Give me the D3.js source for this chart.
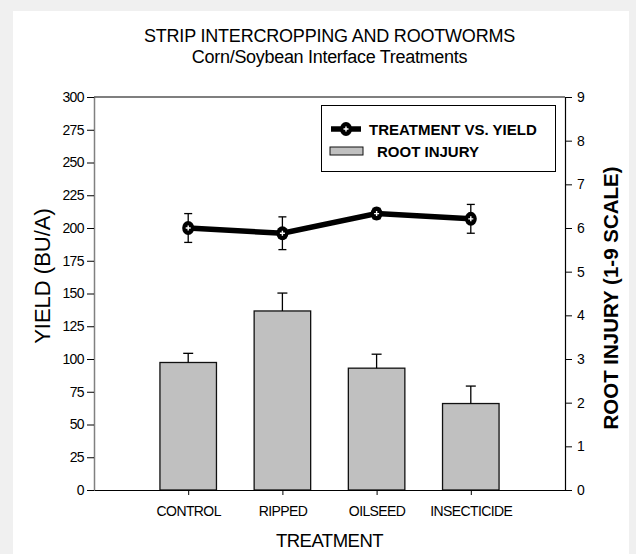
<!DOCTYPE html>
<html>
<head>
<meta charset="utf-8">
<script src="https://cdn.jsdelivr.net/npm/d3@7"></script>
<style>
  body { margin: 0; background: #f0f0f0; }
  svg { display: block; }
  text { font-family: "Liberation Sans", Arial, sans-serif; fill: #000; }
</style>
</head>
<body>
<svg id="chart" width="636" height="554"></svg>
<script>
// data
var treatments = ['CONTROL', 'RIPPED', 'OILSEED', 'INSECTICIDE'];
var yieldVals = [200, 196, 211, 207];
var yieldErr = [11, 12.5, 4, 11];
var injuryVals = [2.92, 4.10, 2.79, 1.98];
var injuryErr = [0.21, 0.41, 0.32, 0.40];
var yieldTicks = d3.range(0, 301, 25);
var injuryTicks = d3.range(0, 10, 1);

var svg = d3.select('#chart');
var m = { top: 97, right: 71, bottom: 64, left: 94 };
var w = 636 - m.left - m.right;
var h = 554 - m.top - m.bottom;

// white panel
svg.append('rect')
  .attr('x', 13).attr('y', 11)
  .attr('width', 616).attr('height', 554)
  .attr('fill', '#fff');

var g = svg.append('g').attr('transform', 'translate(' + m.left + ',' + m.top + ')');

var x = d3.scalePoint().domain(treatments).range([0, w]).padding(1);
var yL = d3.scaleLinear().domain([0, 300]).range([h, 0]);
var yR = d3.scaleLinear().domain([0, 9]).range([h, 0]);
var barW = x.step() * 0.6;

var rows = treatments.map(function(t, i) {
  return { t: t, y: yieldVals[i], ye: yieldErr[i], r: injuryVals[i], re: injuryErr[i] };
});

// bars (root injury, right axis)
g.append('g').selectAll('rect')
  .data(rows)
  .enter().append('rect')
  .attr('x', function(d) { return x(d.t) - barW / 2; })
  .attr('y', function(d) { return yR(d.r); })
  .attr('width', barW)
  .attr('height', function(d) { return h - yR(d.r); })
  .attr('fill', '#c0c0c0')
  .attr('stroke', '#111')
  .attr('stroke-width', 1.3);

// bar error bars (up only)
var be = g.append('g').attr('stroke', '#000').attr('stroke-width', 1.3);
be.selectAll('line.v')
  .data(rows)
  .enter().append('line')
  .attr('class', 'v')
  .attr('x1', function(d) { return x(d.t); })
  .attr('x2', function(d) { return x(d.t); })
  .attr('y1', function(d) { return yR(d.r); })
  .attr('y2', function(d) { return yR(d.r + d.re); });
be.selectAll('line.c')
  .data(rows)
  .enter().append('line')
  .attr('class', 'c')
  .attr('x1', function(d) { return x(d.t) - 5; })
  .attr('x2', function(d) { return x(d.t) + 5; })
  .attr('y1', function(d) { return yR(d.r + d.re); })
  .attr('y2', function(d) { return yR(d.r + d.re); });

// axes
g.append('g')
  .attr('class', 'axL')
  .call(d3.axisLeft(yL).tickValues(yieldTicks).tickSize(7).tickPadding(3).tickSizeOuter(0));
g.append('g')
  .attr('class', 'axR')
  .attr('transform', 'translate(' + w + ',0)')
  .call(d3.axisRight(yR).tickValues(injuryTicks).tickSize(7).tickPadding(5).tickSizeOuter(0));
g.append('g')
  .attr('class', 'axB')
  .attr('transform', 'translate(0,' + h + ')')
  .call(d3.axisBottom(x).tickSize(5).tickPadding(11).tickSizeOuter(0));
g.append('line')
  .attr('x1', 0).attr('x2', w).attr('y1', 0).attr('y2', 0)
  .attr('stroke', '#000').attr('stroke-width', 1.2);

g.selectAll('.axL .domain').attr('stroke', '#808080').attr('stroke-width', 1.5);
g.selectAll('.axR .domain, .axB .domain').attr('stroke', '#000').attr('stroke-width', 1.2);
g.selectAll('.tick line').attr('stroke', '#000');
g.selectAll('.tick text')
  .attr('font-size', 14)
  .attr('letter-spacing', -0.6)
  .attr('font-family', '"Liberation Sans", Arial, sans-serif');

// yield line error bars
var le = g.append('g').attr('stroke', '#000').attr('stroke-width', 1.3);
le.selectAll('line.v')
  .data(rows)
  .enter().append('line')
  .attr('x1', function(d) { return x(d.t); })
  .attr('x2', function(d) { return x(d.t); })
  .attr('y1', function(d) { return yL(d.y - d.ye); })
  .attr('y2', function(d) { return yL(d.y + d.ye); });
[1, -1].forEach(function(s) {
  le.selectAll('line.c' + s)
    .data(rows)
    .enter().append('line')
    .attr('x1', function(d) { return x(d.t) - 4; })
    .attr('x2', function(d) { return x(d.t) + 4; })
    .attr('y1', function(d) { return yL(d.y + s * d.ye); })
    .attr('y2', function(d) { return yL(d.y + s * d.ye); });
});

// yield line
var line = d3.line()
  .x(function(d) { return x(d.t); })
  .y(function(d) { return yL(d.y); });
g.append('path')
  .datum(rows)
  .attr('d', line)
  .attr('fill', 'none')
  .attr('stroke', '#000')
  .attr('stroke-width', 5.5);

function marker(sel) {
  sel.append('ellipse')
    .attr('rx', 6).attr('ry', 7)
    .attr('fill', '#000');
  sel.append('path')
    .attr('d', 'M-2.5,0H2.5M0,-2.5V2.5')
    .attr('stroke', '#fff')
    .attr('stroke-width', 1.4);
}

g.append('g').selectAll('g')
  .data(rows)
  .enter().append('g')
  .attr('transform', function(d) { return 'translate(' + x(d.t) + ',' + yL(d.y) + ')'; })
  .call(marker);

// legend
var lg = svg.append('g');
lg.append('rect')
  .attr('x', 321.5).attr('y', 105.5)
  .attr('width', 234).attr('height', 66)
  .attr('fill', '#fff')
  .attr('stroke', '#000');
lg.append('line')
  .attr('x1', 331).attr('x2', 361).attr('y1', 129).attr('y2', 129)
  .attr('stroke', '#000').attr('stroke-width', 5.5);
lg.append('g').attr('transform', 'translate(346,129)').call(marker);
lg.append('text')
  .attr('x', 369).attr('y', 134.5)
  .attr('font-size', 15).attr('font-weight', 'bold')
  .text('TREATMENT VS. YIELD');
lg.append('rect')
  .attr('x', 330).attr('y', 147)
  .attr('width', 33).attr('height', 8)
  .attr('fill', '#c0c0c0')
  .attr('stroke', '#111');
lg.append('text')
  .attr('x', 377).attr('y', 157)
  .attr('font-size', 15).attr('font-weight', 'bold')
  .text('ROOT INJURY');

// titles
var cx = m.left + w / 2;
svg.append('text')
  .attr('x', cx).attr('y', 42)
  .attr('text-anchor', 'middle')
  .attr('font-size', 18)
  .attr('letter-spacing', -0.2)
  .text('STRIP INTERCROPPING AND ROOTWORMS');
svg.append('text')
  .attr('x', cx).attr('y', 63)
  .attr('text-anchor', 'middle')
  .attr('font-size', 18)
  .attr('letter-spacing', -0.3)
  .text('Corn/Soybean Interface Treatments');
svg.append('text')
  .attr('x', cx).attr('y', 547)
  .attr('text-anchor', 'middle')
  .attr('font-size', 18.5)
  .attr('letter-spacing', -0.5)
  .text('TREATMENT');
svg.append('text')
  .attr('transform', 'translate(50,276) rotate(-90)')
  .attr('text-anchor', 'middle')
  .attr('font-size', 22)
  .text('YIELD (BU/A)');
svg.append('text')
  .attr('transform', 'translate(618,298) rotate(-90)')
  .attr('text-anchor', 'middle')
  .attr('font-size', 20.5)
  .attr('font-weight', 'bold')
  .text('ROOT INJURY (1-9 SCALE)');
</script>
</body>
</html>
